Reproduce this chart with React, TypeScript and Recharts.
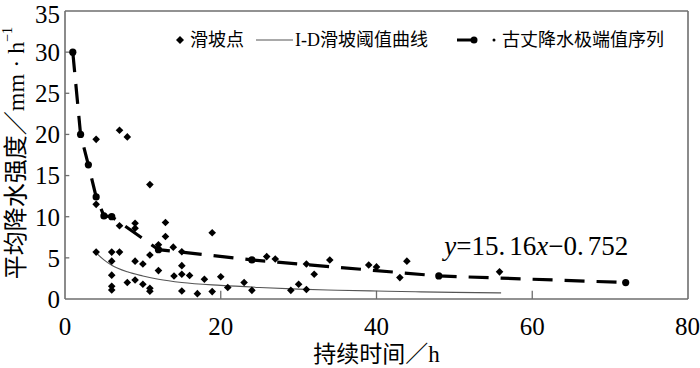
import React from 'react';
import {
  ComposedChart,
  XAxis,
  YAxis,
  Scatter,
  Line,
  ReferenceLine,
  ReferenceDot,
  Legend,
} from 'recharts';

const FONT = "'Liberation Serif', 'Times New Roman', 'Noto Sans CJK SC', serif";
const AXIS = '#6e6e6e';

// ---------- data ----------
const xTicks = [0, 20, 40, 60, 80];
const yTicks = [0, 5, 10, 15, 20, 25, 30, 35];
const xTickInner = [20, 40, 60];
const yTickInner = [5, 10, 15, 20, 25, 30];

// 滑坡点: [duration h, intensity mm/h]
const landslidePoints: [number, number][] = [
  [4.0, 19.4], [7.0, 20.5], [8.0, 19.7], [10.9, 13.9], [4.0, 11.5],
  [7.0, 8.9], [9.0, 9.2], [9.0, 8.6], [12.9, 9.3], [12.9, 7.6],
  [12.0, 6.6], [13.9, 6.3], [15.0, 5.75], [10.9, 5.35], [4.0, 5.7],
  [6.0, 5.7], [7.0, 5.7], [6.0, 4.6], [9.0, 4.6], [10.0, 4.25],
  [15.0, 4.05], [12.0, 3.45], [6.0, 2.9], [14.0, 2.8], [15.0, 3.0],
  [16.0, 2.85], [17.9, 2.4], [9.0, 2.3], [8.0, 2.0], [10.0, 1.8],
  [10.9, 1.3], [10.9, 0.95], [6.0, 1.55], [6.0, 1.1], [15.0, 0.97],
  [17.0, 0.65], [18.9, 8.05], [20.0, 2.7], [20.9, 1.4], [23.0, 2.0],
  [24.0, 1.05], [18.9, 0.9], [25.9, 5.15], [27.0, 4.86], [31.0, 4.25],
  [32.0, 3.0], [34.0, 4.74], [29.0, 1.05], [30.0, 1.8], [31.0, 1.15],
  [39.0, 4.13], [40.0, 3.9], [43.0, 2.6], [43.9, 4.6], [55.8, 3.3],
];

// I-D 滑坡阈值曲线
const thresholdDuration = [4, 5, 6, 8, 10, 12, 15, 20, 25, 30, 35, 40, 45, 50, 56];
const thresholdIntensity = [5.6, 4.75, 4.1, 3.3, 2.8, 2.4, 2.0, 1.65, 1.4, 1.2, 1.07, 0.97, 0.88, 0.8, 0.74];

// 古丈降水极端值序列
const extremeDuration = [1, 2, 3, 4, 5, 6, 12, 24, 48, 72];
const extremeIntensity = [30, 20, 16.3, 12.4, 10.1, 10.0, 6.0, 4.75, 2.8, 2.0];

const landslideData = landslidePoints.map(([x, y]) => ({ x, y }));
const thresholdData = thresholdDuration.map((x, i) => ({ x, y: thresholdIntensity[i] }));
const extremeData = extremeDuration.map((x, i) => ({ x, y: extremeIntensity[i] }));

// ---------- marks ----------
const Diamond = (props: any) => {
  const { cx, cy } = props;
  if (cx == null || cy == null) return <g />;
  const s = 3.8;
  return (
    <polygon
      points={`${cx},${cy - s} ${cx + s},${cy} ${cx},${cy + s} ${cx - s},${cy}`}
      fill="#000"
    />
  );
};

const ExtremeDot = (props: any) => {
  const { cx, cy, index } = props;
  if (cx == null || cy == null) return <g key={`d${index}`} />;
  return <circle key={`d${index}`} cx={cx} cy={cy} r={3.6} fill="#000" />;
};

const LegendContent = () => (
  <div
    style={{
      display: 'flex',
      alignItems: 'center',
      fontFamily: FONT,
      fontSize: 18,
      color: '#000',
      whiteSpace: 'nowrap',
      lineHeight: '22px',
    }}
  >
    <svg width={8} height={8}>
      <polygon points="4,0 8,4 4,8 0,4" fill="#000" />
    </svg>
    <span style={{ marginLeft: 6 }}>滑坡点</span>
    <svg width={37} height={4} style={{ marginLeft: 12 }}>
      <line x1={0} y1={2} x2={37} y2={2} stroke="#555" strokeWidth={1} />
    </svg>
    <span style={{ marginLeft: 2 }}>I-D滑坡阈值曲线</span>
    <svg width={40} height={10} style={{ marginLeft: 29 }}>
      <line x1={0} y1={5} x2={17} y2={5} stroke="#000" strokeWidth={3} />
      <circle cx={17} cy={5} r={3.5} fill="#000" />
      <circle cx={37} cy={5} r={1.5} fill="#000" />
    </svg>
    <span style={{ marginLeft: 5 }}>古丈降水极端值序列</span>
  </div>
);

const YTitle = (props: any) => {
  const vb = props.viewBox || { x: 0, y: 11, width: 65, height: 288 };
  const cx = vb.x + 16;
  const cy = vb.y + vb.height / 2 - 2;
  return (
    <text
      x={cx}
      y={cy}
      transform={`rotate(-90 ${cx} ${cy})`}
      textAnchor="middle"
      dominantBaseline="central"
      fontFamily={FONT}
      fontSize={24}
      fill="#000"
      style={{ whiteSpace: 'pre' }}
    >
      <tspan>平均降水强度／mm</tspan>
      <tspan dx={6}>·</tspan>
      <tspan dx={6}>h</tspan>
      <tspan dy={-9} fontSize={14}>−1</tspan>
    </text>
  );
};

const EquationLabel = (props: any) => {
  const vb = props.viewBox || { x: 0, y: 0 };
  return (
    <text x={vb.x} y={vb.y} fontFamily={FONT} fontSize={27} fill="#000" textAnchor="start">
      <tspan fontStyle="italic">y</tspan>
      <tspan>=15.</tspan>
      <tspan dx={4}>16</tspan>
      <tspan fontStyle="italic">x</tspan>
      <tspan>−0.</tspan>
      <tspan dx={4}>752</tspan>
    </text>
  );
};

const tickStyle = { fontSize: 25, fill: '#000', fontFamily: FONT };

export default function App() {
  return (
    <div style={{ position: 'absolute', left: 0, top: 0, width: 700, height: 368, background: '#fff' }}>
      <ComposedChart
        width={700}
        height={368}
        margin={{ top: 11, right: 12, bottom: 0, left: 0 }}
      >
        <XAxis
          type="number"
          dataKey="x"
          domain={[0, 80]}
          ticks={xTicks}
          allowDataOverflow
          axisLine={{ stroke: AXIS, strokeWidth: 1.6 }}
          tickLine={false}
          tickSize={0}
          tickMargin={18}
          tick={tickStyle}
          height={69}
          label={{
            value: '持续时间／h',
            position: 'insideBottom',
            offset: 6,
            fill: '#000',
            fontSize: 23,
            fontFamily: FONT,
          }}
        />
        <YAxis
          type="number"
          dataKey="y"
          domain={[0, 35]}
          ticks={yTicks}
          allowDataOverflow
          axisLine={{ stroke: AXIS, strokeWidth: 1.6 }}
          tickLine={false}
          tickSize={0}
          tickMargin={5}
          tick={tickStyle}
          width={65}
          label={(p: any) => <YTitle {...p} />}
        />
        <ReferenceLine y={35} stroke={AXIS} strokeWidth={1.6} />
        <ReferenceLine x={80} stroke={AXIS} strokeWidth={1.6} />
        {xTickInner.map((t) => (
          <ReferenceLine
            key={`xt${t}`}
            segment={[{ x: t, y: 0 }, { x: t, y: 1 }]}
            stroke={AXIS}
            strokeWidth={1.3}
          />
        ))}
        {yTickInner.map((t) => (
          <ReferenceLine
            key={`yt${t}`}
            segment={[{ x: 0, y: t }, { x: 0.55, y: t }]}
            stroke={AXIS}
            strokeWidth={1.3}
          />
        ))}
        <Line
          data={thresholdData}
          dataKey="y"
          type="monotone"
          stroke="#555"
          strokeWidth={1.1}
          dot={false}
          activeDot={false}
          isAnimationActive={false}
          name="I-D滑坡阈值曲线"
        />
        <Scatter
          data={landslideData}
          dataKey="y"
          shape={Diamond}
          isAnimationActive={false}
          name="滑坡点"
        />
        <Line
          data={extremeData}
          dataKey="y"
          type="linear"
          stroke="#000"
          strokeWidth={3.2}
          strokeDasharray="20 12"
          dot={ExtremeDot}
          activeDot={false}
          isAnimationActive={false}
          name="古丈降水极端值序列"
        />
        <ReferenceDot
          x={48.7}
          y={5.35}
          r={0}
          fill="none"
          stroke="none"
          label={(p: any) => <EquationLabel {...p} />}
        />
        <Legend
          layout="vertical"
          align="center"
          verticalAlign="middle"
          content={() => <LegendContent />}
          wrapperStyle={{ top: 29, left: 176, width: 'auto', height: 'auto' }}
        />
      </ComposedChart>
    </div>
  );
}
